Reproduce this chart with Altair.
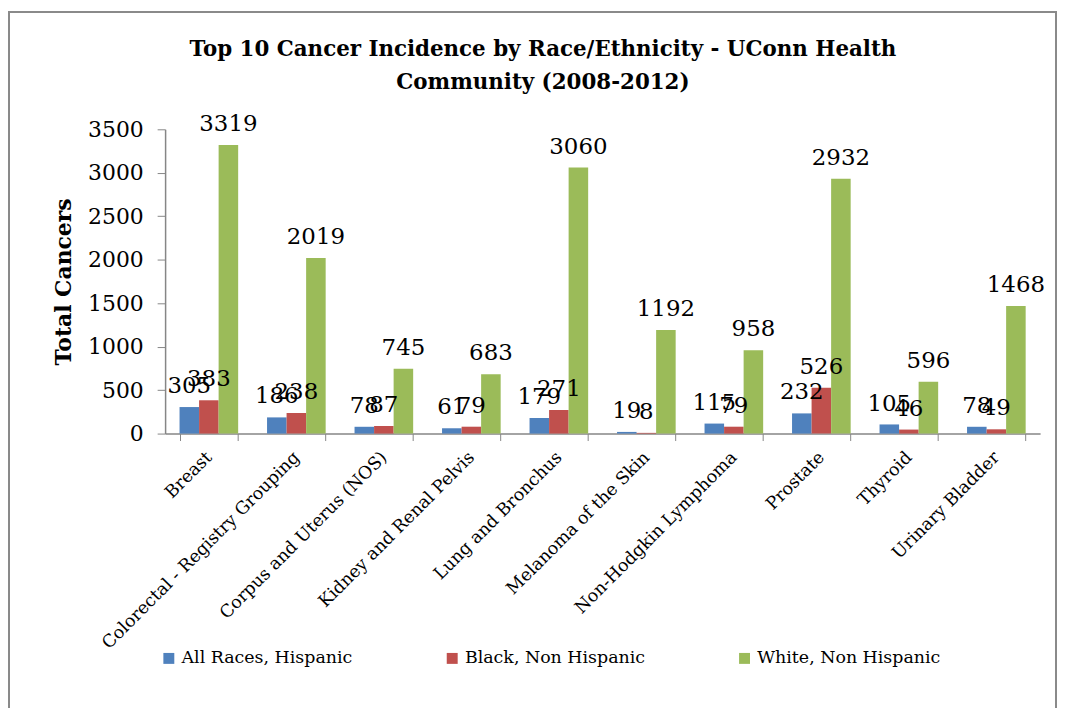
import altair as alt
import pandas as pd

categories = [
    "Breast",
    "Colorectal - Registry Grouping",
    "Corpus and Uterus (NOS)",
    "Kidney and Renal Pelvis",
    "Lung and Bronchus",
    "Melanoma of the Skin",
    "Non-Hodgkin Lymphoma",
    "Prostate",
    "Thyroid",
    "Urinary Bladder",
]
series_names = ["All Races, Hispanic", "Black, Non Hispanic", "White, Non Hispanic"]
all_races_hispanic = [305, 186, 78, 61, 179, 19, 115, 232, 105, 78]
black_non_hispanic = [383, 238, 87, 79, 271, 8, 79, 526, 46, 49]
white_non_hispanic = [3319, 2019, 745, 683, 3060, 1192, 958, 2932, 596, 1468]
colors = ["#4F81BD", "#C0504D", "#9BBB59"]
y_ticks = [0, 500, 1000, 1500, 2000, 2500, 3000, 3500]

rows = []
for name, vals in zip(series_names, [all_races_hispanic, black_non_hispanic, white_non_hispanic]):
    for c, v in zip(categories, vals):
        rows.append({"Cancer": c, "Group": name, "Count": v})
df = pd.DataFrame(rows)

FONT = "DejaVu Serif"
AXIS_GRAY = "#868686"

x_enc = alt.X(
    "Cancer:N",
    sort=categories,
    scale=alt.Scale(paddingInner=0.33, paddingOuter=0.165),
    axis=alt.Axis(
        title=None,
        labelAngle=-45,
        labelAlign="right",
        labelBaseline="middle",
        labelFont=FONT,
        labelFontSize=17.5,
        labelColor="#000000",
        labelPadding=14,
        tickBand="extent",
        tickSize=7,
        tickColor=AXIS_GRAY,
        domainColor=AXIS_GRAY,
        domainWidth=1.5,
        labelLimit=400,
    ),
)
y_enc = alt.Y(
    "Count:Q",
    scale=alt.Scale(domain=[0, 3500], nice=False),
    axis=alt.Axis(
        title="Total Cancers",
        titleFont=FONT,
        titleFontSize=22,
        titleFontWeight="bold",
        titleColor="#000000",
        titlePadding=12,
        values=y_ticks,
        format="d",
        labelFont=FONT,
        labelFontSize=22,
        labelColor="#000000",
        labelPadding=14,
        tickSize=8,
        tickColor=AXIS_GRAY,
        domainColor=AXIS_GRAY,
        domainWidth=1.5,
        grid=False,
    ),
)
xoff = alt.XOffset("Group:N", sort=series_names)

bars = alt.Chart(df).mark_bar().encode(
    x=x_enc,
    y=y_enc,
    xOffset=xoff,
    color=alt.Color(
        "Group:N",
        sort=series_names,
        scale=alt.Scale(domain=series_names, range=colors),
        legend=alt.Legend(
            title=None,
            orient="none",
            legendX=-5,
            legendY=523,
            direction="horizontal",
            columnPadding=91,
            symbolType="square",
            symbolSize=121,
            symbolStrokeWidth=0,
            labelFont=FONT,
            labelFontSize=17.5,
            labelColor="#000000",
            labelOffset=4,
            labelLimit=300,
            padding=0,
        ),
    ),
)

labels = alt.Chart(df).mark_text(
    baseline="bottom", dy=-9, font=FONT, fontSize=23, color="#000000"
).encode(
    x=alt.X("Cancer:N", sort=categories),
    y=alt.Y("Count:Q"),
    xOffset=xoff,
    text=alt.Text("Count:Q"),
)

frame = alt.Chart(df).mark_rect(
    filled=False, stroke="#8a8a8a", strokeWidth=2
).encode(
    x=alt.value(-157), x2=alt.value(896), y=alt.value(-118), y2=alt.value(700)
)

chart = (
    alt.layer(bars, labels, frame)
    .properties(
        width=880,
        height=306,
        title=alt.TitleParams(
            text=["Top 10 Cancer Incidence by Race/Ethnicity - UConn Health", "Community (2008-2012)"],
            font=FONT,
            fontSize=21.5,
            fontWeight="bold",
            color="#000000",
            lineHeight=33,
            offset=-83,
            dx=-60,
            anchor="middle",
            frame="group",
        ),
        autosize=alt.AutoSizeParams(type="none"),
        padding={"left": 158, "top": 120, "right": 18, "bottom": 274},
        background="#ffffff",
    )
    .configure_view(stroke=None)
)

chart.save("out.html", embed_options={"renderer": "svg", "actions": False})
